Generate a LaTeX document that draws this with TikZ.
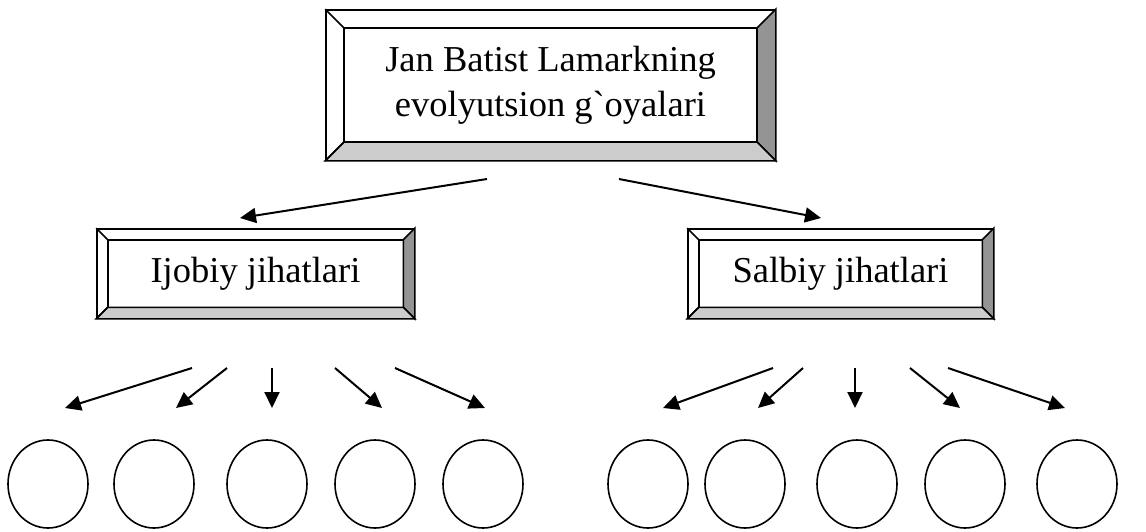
\documentclass[tikz,border=0pt]{standalone}
\usepackage{fontspec}
\newfontfamily\boxfont{Liberation Serif}
\usetikzlibrary{arrows.meta,shapes.geometric,calc}
\tikzstyle{bevelbox}=[draw,fill=white,line width=1.6pt,inner sep=0pt,align=center,font=\boxfont\fontsize{36.5}{45}\selectfont]
\tikzstyle{arrow}=[-{Triangle[length=16pt,width=15pt]},line width=2pt]
\tikzstyle{ring}=[draw,ellipse,line width=1.6pt,minimum width=80pt,minimum height=88pt,inner sep=0pt]
% shaded frame round a box: node name, depth
\newcommand{\bevel}[2]{%
\draw[line width=1.6pt,fill=black!42] (#1.north east) -- (#1.south east) -- ($(#1.south east)+(-#2pt,#2pt)$) -- ($(#1.north east)+(-#2pt,-#2pt)$) -- cycle;
\draw[line width=1.6pt,fill=black!20] (#1.south west) -- (#1.south east) -- ($(#1.south east)+(-#2pt,#2pt)$) -- ($(#1.south west)+(#2pt,#2pt)$) -- cycle;
\draw[line width=1.6pt] ($(#1.north west)+(#2pt,-#2pt)$) rectangle ($(#1.south east)+(-#2pt,#2pt)$);
\draw[line width=1.6pt] (#1.north west) -- ++(#2pt,-#2pt) (#1.south west) -- ++(#2pt,#2pt);
}

\begin{document}
\begin{tikzpicture}[x=1pt,y=-1pt]
\useasboundingbox (0,0) rectangle (1146,531);
\node (lamark) [bevelbox, minimum width=449pt, minimum height=150pt] at (550.5,85) {Jan Batist Lamarkning\\evolyutsion g`oyalari};
\node (ijobiy) [bevelbox, minimum width=317pt, minimum height=89pt] at (255.5,273.5) {Ijobiy jihatlari};
\node (salbiy) [bevelbox, minimum width=305pt, minimum height=89pt] at (840.5,273.5) {Salbiy jihatlari};
\bevel{lamark}{19}
\bevel{ijobiy}{11.5}
\bevel{salbiy}{11.5}

\coordinate (ls) at (487,179); \coordinate (le) at (240,218);
\coordinate (rs) at (619,179); \coordinate (re) at (821,218);
\draw [arrow] (ls) -- (le);
\draw [arrow] (rs) -- (re);

% ijobiy jihatlari
\node (ij1) [ring] at (48,484) {};
\node (ij2) [ring] at (154,484) {};
\node (ij3) [ring] at (267,484) {};
\node (ij4) [ring] at (375,484) {};
\node (ij5) [ring] at (483,484) {};
\foreach \i/\a/\b in {1/192/65, 2/227/176, 3/272/272, 4/335/382, 5/395/485}{
  \coordinate (ija\i) at (\a,368);
  \coordinate (ijb\i) at (\b,408);
  \draw [arrow] (ija\i) -- (ijb\i);
}

% salbiy jihatlari
\node (sb1) [ring] at (648,484) {};
\node (sb2) [ring] at (745,484) {};
\node (sb3) [ring] at (857,484) {};
\node (sb4) [ring] at (965,484) {};
\node (sb5) [ring] at (1077,484) {};
\foreach \i/\a/\b in {1/773/663, 2/803/758, 3/855/855, 4/910/960, 5/948/1065}{
  \coordinate (sba\i) at (\a,368);
  \coordinate (sbb\i) at (\b,408);
  \draw [arrow] (sba\i) -- (sbb\i);
}
\end{tikzpicture}
\end{document}
